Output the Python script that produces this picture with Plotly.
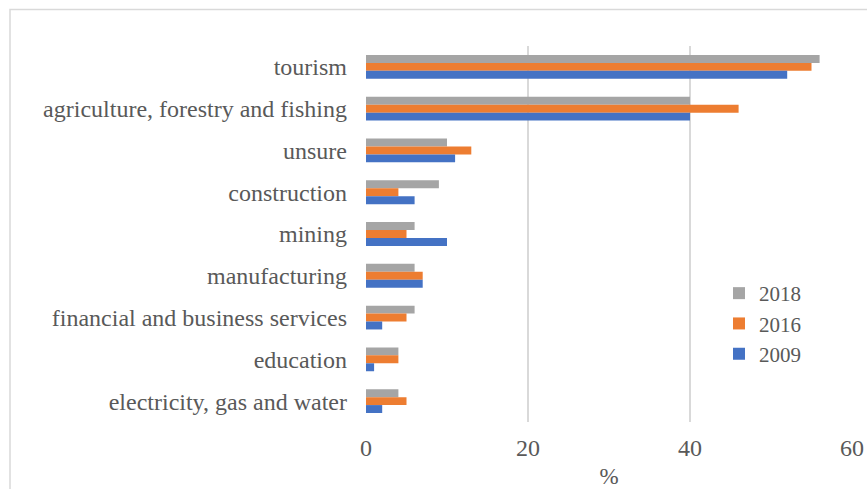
import plotly.graph_objects as go

categories = ["tourism", "agriculture, forestry and fishing", "unsure", "construction",
              "mining", "manufacturing", "financial and business services",
              "education", "electricity, gas and water"]
v2018 = [56, 40, 10, 9, 6, 6, 6, 4, 4]
v2016 = [55, 46, 13, 4, 5, 7, 5, 4, 5]
v2009 = [52, 40, 11, 6, 10, 7, 2, 1, 2]

series = [("2018", v2018, "#a5a5a5"), ("2016", v2016, "#ed7d31"), ("2009", v2009, "#4472c4")]

FONT = "Liberation Serif, Times New Roman, serif"
TXT = "#595959"

fig = go.Figure()
for name, vals, col in series:
    fig.add_trace(go.Bar(y=categories, x=vals, name=name, orientation="h",
                         marker=dict(color=col, line=dict(width=0))))

W, H = 867, 489
L, T = 366, 46
R = W - 852
B = H - 422
pw, ph = W - L - R, H - T - B

def px(x):
    return (x - L) / pw

def py(y):
    return (H - B - y) / ph

fig.update_layout(
    width=W, height=H,
    margin=dict(l=L, r=R, t=T, b=B, autoexpand=False),
    paper_bgcolor="white", plot_bgcolor="white",
    barmode="group", bargap=0.43, bargroupgap=0,
    font=dict(family=FONT, size=24, color=TXT),
    legend=dict(x=px(719), y=py(273), xanchor="left", yanchor="top",
                font=dict(family=FONT, size=21, color=TXT),
                bgcolor="rgba(0,0,0,0)", tracegroupgap=0),
    xaxis=dict(range=[0, 60], tickvals=[0, 20, 40, 60], showgrid=True, automargin=False,
               gridcolor="#d9d9d9", gridwidth=1.5, zeroline=False, showline=False,
               ticks="", ticklabelstandoff=9,
               tickfont=dict(family=FONT, size=24, color=TXT),
               title=dict(text="%", font=dict(family=FONT, size=23, color=TXT), standoff=8)),
    yaxis=dict(autorange="reversed", showgrid=False, zeroline=False, showline=False,
               automargin=False, ticks="", ticklabelstandoff=18,
               tickfont=dict(family=FONT, size=24, color=TXT)),
    shapes=[dict(type="rect", xref="paper", yref="paper",
                 x0=px(10), x1=px(900), y0=py(9.5), y1=py(520),
                 line=dict(color="#d9d9d9", width=1.5), fillcolor="rgba(0,0,0,0)")],
)

fig.write_html("out.html", config={"displayModeBar": False},
               post_script="document.body.style.margin='0';document.body.style.overflow='hidden';")
